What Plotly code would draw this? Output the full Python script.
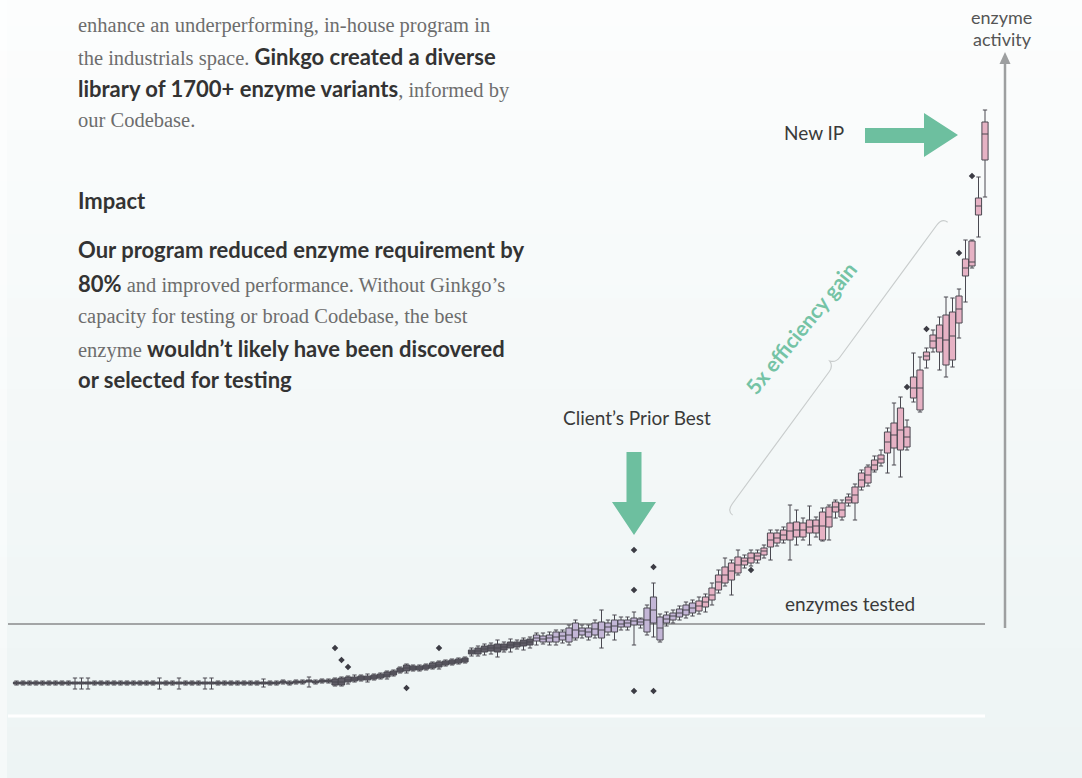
import math
import plotly.graph_objects as go

W, H = 1082, 778

# ---------------- data ----------------
# y: enzyme activity (arbitrary units, client's prior best ~12.5, new IP ~61.5)
# x: rank of variant group (0 .. 149)
median = [6.6, 6.6, 6.6, 6.6, 6.6, 6.6, 6.6, 6.6, 6.6, 6.6,
          6.6, 6.6, 6.6, 6.6, 6.6, 6.6, 6.6, 6.6, 6.6, 6.6,
          6.6, 6.6, 6.6, 6.6, 6.6, 6.6, 6.6, 6.6, 6.6, 6.6,
          6.6, 6.6, 6.6, 6.6, 6.6, 6.6, 6.6, 6.6, 6.6, 6.6,
          6.6, 6.7, 6.6, 6.7, 6.7, 6.8, 6.7, 6.8, 6.8, 6.7,
          6.7, 6.9, 7.0, 7.1, 7.1, 7.2, 7.3, 7.4, 7.6, 7.9,
          8.1, 8.1, 8.1, 8.2, 8.3, 8.4, 8.6, 8.7, 8.8, 8.9,
          9.7, 9.8, 10.0, 10.1, 10.1, 10.2, 10.4, 10.5, 10.6, 10.7,
          11.1, 11.0, 11.1, 11.2, 11.3, 11.4, 11.9, 11.8, 11.7, 12.0,
          11.9, 12.2, 12.3, 12.5, 12.6, 12.8, 12.7, 12.9, 13.9, 12.1,
          13.0, 13.3, 13.6, 13.9, 14.1, 14.3, 14.7, 15.4, 16.7, 17.4,
          17.8, 18.4, 18.8, 19.1, 19.3, 19.8, 20.9, 21.1, 21.4, 21.8,
          21.9, 21.9, 22.2, 22.3, 22.3, 23.2, 24.2, 23.9, 24.9, 25.4,
          26.9, 27.4, 28.4, 29.0, 30.7, 31.4, 31.9, 31.2, 36.1, 36.1,
          39.3, 40.8, 41.1, 40.9, 41.3, 44.0, 48.1, 48.7, 54.3, 61.5]

q1 = [6.5, 6.5, 6.5, 6.5, 6.5, 6.5, 6.5, 6.5, 6.5, 6.5,
      6.5, 6.5, 6.5, 6.5, 6.5, 6.5, 6.5, 6.5, 6.5, 6.5,
      6.5, 6.5, 6.5, 6.5, 6.5, 6.5, 6.5, 6.5, 6.5, 6.5,
      6.5, 6.5, 6.5, 6.5, 6.5, 6.5, 6.5, 6.5, 6.5, 6.5,
      6.5, 6.6, 6.5, 6.6, 6.6, 6.7, 6.6, 6.7, 6.7, 6.4,
      6.4, 6.7, 6.8, 6.9, 6.9, 7.0, 7.1, 7.2, 7.4, 7.7,
      7.8, 7.9, 7.9, 8.0, 8.1, 8.2, 8.4, 8.5, 8.6, 8.7,
      9.5, 9.5, 9.7, 9.8, 9.7, 9.9, 10.1, 10.2, 10.3, 10.4,
      10.8, 10.7, 10.7, 10.7, 10.9, 10.7, 11.1, 11.4, 11.2, 11.4,
      11.1, 11.7, 11.7, 12.2, 12.2, 12.4, 12.4, 11.7, 12.6, 10.9,
      12.6, 12.9, 13.2, 13.4, 13.6, 13.8, 14.2, 14.9, 15.9, 16.6,
      16.9, 17.6, 18.4, 18.6, 18.9, 19.4, 20.2, 20.6, 20.9, 20.9,
      21.2, 21.2, 21.6, 21.6, 20.9, 22.2, 23.7, 23.2, 24.6, 24.6,
      26.2, 26.6, 27.9, 28.6, 29.6, 30.1, 29.9, 30.2, 35.1, 33.9,
      38.9, 40.1, 39.7, 38.4, 38.9, 42.6, 47.3, 48.3, 53.4, 58.9]

q3 = [6.7, 6.7, 6.7, 6.7, 6.7, 6.7, 6.7, 6.7, 6.7, 6.7,
      6.7, 6.7, 6.7, 6.7, 6.7, 6.7, 6.7, 6.7, 6.7, 6.7,
      6.7, 6.7, 6.7, 6.7, 6.7, 6.7, 6.7, 6.7, 6.7, 6.7,
      6.7, 6.7, 6.7, 6.7, 6.7, 6.7, 6.7, 6.7, 6.7, 6.7,
      6.7, 6.8, 6.7, 6.8, 6.8, 6.9, 6.8, 6.9, 6.9, 7.0,
      7.1, 7.2, 7.2, 7.3, 7.3, 7.4, 7.5, 7.7, 7.8, 8.1,
      8.4, 8.3, 8.3, 8.4, 8.6, 8.7, 8.8, 8.9, 9.0, 9.1,
      9.9, 10.1, 10.3, 10.4, 10.5, 10.5, 10.7, 10.7, 10.9, 11.0,
      11.4, 11.3, 11.4, 11.7, 11.7, 12.1, 12.6, 12.1, 12.1, 12.6,
      12.7, 12.6, 12.9, 12.9, 12.9, 13.1, 13.0, 14.1, 15.2, 13.2,
      13.4, 13.6, 14.0, 14.4, 14.6, 14.8, 15.2, 16.1, 17.4, 18.2,
      18.6, 19.2, 19.1, 19.6, 19.6, 20.1, 21.6, 21.6, 21.9, 22.6,
      22.7, 22.6, 22.9, 22.9, 23.7, 24.2, 24.7, 24.6, 25.2, 26.2,
      27.6, 28.2, 28.9, 29.4, 31.7, 32.6, 34.1, 32.2, 37.2, 37.9,
      39.7, 41.4, 42.4, 43.4, 43.7, 45.3, 49.0, 50.8, 55.1, 62.7]

lower_fence = [6.4, 6.4, 6.4, 6.4, 6.4, 6.4, 6.4, 6.4, 6.4, 6.0,
               6.0, 6.0, 6.4, 6.4, 6.4, 6.4, 6.4, 6.4, 6.4, 6.4,
               6.4, 6.4, 6.0, 6.4, 6.4, 6.0, 6.4, 6.4, 6.4, 6.0,
               6.0, 6.4, 6.4, 6.4, 6.4, 6.4, 6.4, 6.4, 6.2, 6.4,
               6.4, 6.5, 6.4, 6.5, 6.5, 6.2, 6.5, 6.6, 6.6, 6.3,
               6.3, 6.5, 6.7, 6.8, 6.7, 6.9, 7.0, 7.0, 7.3, 7.6,
               7.6, 7.8, 7.8, 7.9, 8.0, 8.0, 8.3, 8.4, 8.5, 8.6,
               9.3, 9.3, 9.4, 9.5, 9.2, 9.7, 9.7, 10.0, 9.9, 10.1,
               10.4, 10.5, 10.4, 10.4, 10.6, 10.4, 10.9, 11.1, 10.9, 11.1,
               10.1, 11.4, 10.9, 11.9, 11.9, 10.4, 12.1, 11.4, 11.2, 10.7,
               12.3, 12.6, 12.9, 13.1, 13.3, 13.5, 13.7, 14.4, 15.6, 16.3,
               15.4, 17.4, 18.1, 18.3, 18.6, 19.1, 18.9, 20.3, 20.6, 18.9,
               20.4, 20.9, 20.4, 21.2, 20.8, 20.9, 23.1, 22.9, 24.3, 22.9,
               25.9, 26.3, 27.7, 28.3, 27.6, 28.4, 27.2, 29.9, 34.7, 33.7,
               38.1, 39.7, 37.9, 37.2, 38.2, 41.1, 44.7, 48.1, 51.2, 55.2]

upper_fence = [6.8, 6.8, 6.8, 6.8, 6.8, 6.8, 6.8, 6.8, 6.8, 7.1,
               7.1, 7.1, 6.8, 6.8, 6.8, 6.8, 6.8, 6.8, 6.8, 6.8,
               6.8, 6.8, 7.1, 6.8, 6.8, 7.1, 6.8, 6.8, 6.8, 7.1,
               7.1, 6.8, 6.8, 6.8, 6.8, 6.8, 6.8, 6.8, 7.0, 6.8,
               6.8, 6.9, 6.8, 6.9, 6.9, 7.2, 6.9, 7.0, 7.0, 7.1,
               7.2, 7.3, 7.4, 7.4, 7.5, 7.5, 7.6, 7.8, 7.9, 8.2,
               8.5, 8.4, 8.4, 8.5, 8.7, 8.8, 8.9, 9.0, 9.1, 9.2,
               10.1, 10.3, 10.5, 10.6, 10.9, 10.7, 11.0, 10.9, 11.1, 11.2,
               11.6, 11.6, 11.7, 11.9, 11.9, 12.4, 12.9, 12.4, 12.4, 12.9,
               13.9, 12.9, 13.4, 13.2, 13.2, 13.7, 13.1, 14.4, 16.6, 13.5,
               13.7, 13.9, 14.3, 14.7, 14.9, 15.2, 15.5, 16.6, 17.9, 19.1,
               18.9, 19.9, 19.4, 19.9, 19.9, 20.4, 21.9, 21.9, 22.2, 24.4,
               23.9, 23.1, 24.3, 23.2, 24.1, 24.4, 24.9, 24.9, 25.5, 26.5,
               27.9, 28.4, 29.3, 29.9, 32.1, 34.6, 35.2, 32.9, 39.6, 39.2,
               40.1, 41.9, 43.2, 45.2, 45.1, 46.0, 50.9, 50.9, 57.2, 63.9]

outlier_rank = [49, 50, 51, 60, 65, 95, 95, 95, 98, 98, 113, 137, 140, 145, 147]
outlier_value = [10.1, 8.9, 8.2, 6.1, 10.1, 19.9, 15.9, 5.8, 18.2, 5.8, 17.9, 36.2, 42.0, 49.6, 57.3]

client_best_level = 12.5

# colour groups (rank boundaries)
groups = [(0, 80, "#5f5c66"), (80, 105, "#c3b6d6"), (105, 150, "#e6b2c4")]

# ---------------- helpers ----------------
def px(x):
    return x / W


def py(y):
    return 1 - y / H


GREEN = "#6dbf9f"
LINE = "#4a4951"

fig = go.Figure()

ranks = list(range(len(median)))
for a, b, col in groups:
    fig.add_trace(go.Box(
        x=ranks[a:b], q1=q1[a:b], median=median[a:b], q3=q3[a:b],
        lowerfence=lower_fence[a:b], upperfence=upper_fence[a:b],
        fillcolor=col, line=dict(color=LINE, width=1),
        width=0.95, whiskerwidth=0.7, boxpoints=False,
        showlegend=False, hoverinfo="skip"))

fig.add_trace(go.Scatter(
    x=outlier_rank, y=outlier_value, mode="markers",
    marker=dict(symbol="diamond", size=5, color="#3c3c44"),
    showlegend=False, hoverinfo="skip"))

# x-range so that rank i sits at pixel 16.5 + 6.5*i ; y so that 10 px = 1 unit
x0 = -16.5 / 6.5
fig.update_xaxes(range=[x0, x0 + W / 6.5], visible=False, fixedrange=True)
fig.update_yaxes(range=[-2.9, 74.9], visible=False, fixedrange=True)

shapes = []
# background gradient
n_bands = 60
top_c = (252, 253, 253)
bot_c = (237, 244, 244)
for k in range(n_bands):
    t = k / (n_bands - 1)
    c = tuple(round(top_c[j] + (bot_c[j] - top_c[j]) * t) for j in range(3))
    shapes.append(dict(type="rect", xref="paper", yref="paper", layer="below",
                       x0=0, x1=1, y0=py((k + 1) * H / n_bands + 1), y1=py(k * H / n_bands),
                       fillcolor="rgb(%d,%d,%d)" % c, line=dict(width=0)))
# slightly lighter strip at far left
shapes.append(dict(type="rect", xref="paper", yref="paper", layer="below",
                   x0=0, x1=px(7), y0=0, y1=1,
                   fillcolor="rgba(255,255,255,0.45)", line=dict(width=0)))
# white band near bottom
shapes.append(dict(type="line", xref="paper", yref="paper", layer="below",
                   x0=px(8), x1=px(985), y0=py(716), y1=py(716),
                   line=dict(color="#ffffff", width=3)))
# horizontal "enzymes tested" axis at client's prior best level
shapes.append(dict(type="line", xref="paper", yref="y", layer="below",
                   x0=px(8), x1=px(985), y0=client_best_level, y1=client_best_level,
                   line=dict(color="#a3a5a6", width=2)))
# vertical "enzyme activity" axis with arrowhead
shapes.append(dict(type="line", xref="paper", yref="paper",
                   x0=px(1005), x1=px(1005), y0=py(628), y1=py(60),
                   line=dict(color="#9d9fa0", width=2.5)))
shapes.append(dict(type="path", xref="paper", yref="paper",
                   path="M %f %f L %f %f L %f %f Z" % (px(999.5), py(64), px(1005), py(52), px(1010.5), py(64)),
                   fillcolor="#9d9fa0", line=dict(width=0)))

# green arrow: New IP (pointing right)
pts = [(865, 128), (924, 128), (924, 113), (958, 135), (924, 157), (924, 143), (865, 143)]
shapes.append(dict(type="path", xref="paper", yref="paper",
                   path="M " + " L ".join("%f %f" % (px(a), py(b)) for a, b in pts) + " Z",
                   fillcolor=GREEN, line=dict(width=0)))
# green arrow: client's prior best (pointing down)
pts = [(626.5, 452), (641.5, 452), (641.5, 502), (656, 502), (634, 535), (612, 502), (626.5, 502)]
shapes.append(dict(type="path", xref="paper", yref="paper",
                   path="M " + " L ".join("%f %f" % (px(a), py(b)) for a, b in pts) + " Z",
                   fillcolor=GREEN, line=dict(width=0)))

# curly brace for "5x efficiency gain"
A = (727.0, 511.0)
B = (942.0, 218.0)
dx, dy = B[0] - A[0], B[1] - A[1]
L = math.hypot(dx, dy)
u = (dx / L, dy / L)
n = (u[1], -u[0])
if n[0] > 0:
    n = (-n[0], -n[1])
M = ((A[0] + B[0]) / 2, (A[1] + B[1]) / 2)


def P(base, du, dn):
    return (base[0] + u[0] * du + n[0] * dn, base[1] + u[1] * du + n[1] * dn)


seq = [
    ("M", [P(A, 0, -7)]),
    ("Q", [P(A, 0, 0), P(A, 9, 0)]),
    ("L", [P(M, -9, 0)]),
    ("Q", [P(M, -2, 0), P(M, 0, 6)]),
    ("Q", [P(M, 2, 0), P(M, 9, 0)]),
    ("L", [P(B, -9, 0)]),
    ("Q", [P(B, 0, 0), P(B, 0, -7)]),
]
path = " ".join(c + " " + " ".join("%f %f" % (px(p[0]), py(p[1])) for p in ps) for c, ps in seq)
shapes.append(dict(type="path", xref="paper", yref="paper", path=path,
                   line=dict(color="#c9cdcd", width=1.2)))

# ---------------- text ----------------
SERIF = "Liberation Serif"
SANS = "Lato"
BOLD = '<span style="font-family:%s;font-weight:700;font-size:22px;fill:#333333">' % SANS

annotations = []


def text_line(y, txt, size=20.5):
    annotations.append(dict(x=px(76), y=py(y), xref="paper", yref="paper",
                            xanchor="left", yanchor="middle", showarrow=False,
                            text=txt, align="left",
                            font=dict(family=SERIF, size=size, color="#6d6d6d")))


text_line(26, "enhance an underperforming, in-house program in")
text_line(56, "the industrials space. " + BOLD + "Ginkgo created a diverse</span>")
text_line(88, BOLD + "library of 1700+ enzyme variants</span>, informed by")
text_line(120, "our Codebase.")
text_line(200, BOLD + "Impact</span>")
text_line(250, BOLD + "Our program reduced enzyme requirement by</span>")
text_line(283, BOLD + "80%</span> and improved performance. Without Ginkgo\u2019s")
text_line(316, "capacity for testing or broad Codebase, the best")
text_line(348, "enzyme " + BOLD + "wouldn\u2019t likely have been discovered</span>")
text_line(380, BOLD + "or selected for testing</span>")


def label(x, y, txt, size=19, color="#3a3a3a", anchor="center"):
    annotations.append(dict(x=px(x), y=py(y), xref="paper", yref="paper",
                            xanchor=anchor, yanchor="middle", showarrow=False,
                            text=txt, font=dict(family=SANS, size=size, color=color)))


label(814, 133, "New IP")
label(637, 417, "Client\u2019s Prior Best")
label(850, 603, "enzymes tested")
label(1034, 17, "enzyme", size=18, color="#555555", anchor="right")
label(1034, 39, "activity", size=18, color="#555555", anchor="right")

annotations.append(dict(x=px(801), y=py(328), xref="paper", yref="paper",
                        xanchor="center", yanchor="middle", showarrow=False,
                        text="<b>5x efficiency gain</b>", textangle=-51,
                        font=dict(family=SANS, size=21, color="#74c3a5")))

fig.update_layout(
    width=W, height=H,
    margin=dict(l=0, r=0, t=0, b=0),
    paper_bgcolor="#f5f8f8", plot_bgcolor="rgba(0,0,0,0)",
    shapes=shapes, annotations=annotations,
    boxmode="overlay",
)

fig.write_html("out.html", config={"displayModeBar": False},
               post_script="document.body.style.margin='0';document.body.style.padding='0';"
                           "document.body.style.overflow='hidden';")
